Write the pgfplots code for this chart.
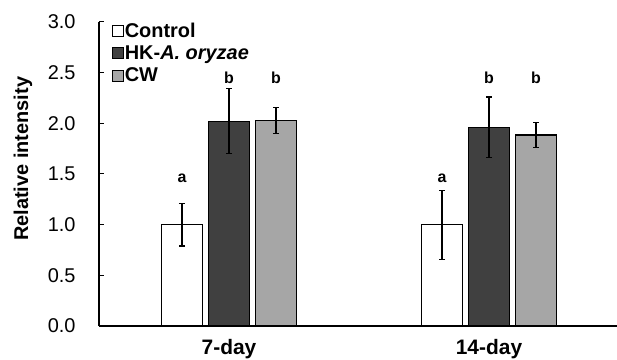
\documentclass[border=0pt]{standalone}
\usepackage{pgfplots}
\pgfplotsset{compat=1.18}
\usepackage{pgfplotstable}
\usepackage{fontspec}
\setmainfont{Liberation Sans}

\pgfplotstableread{
x y err
0 1.00 0.21
1 1.00 0.34
}\control
\pgfplotstableread{
x y err
0 2.02 0.32
1 1.96 0.30
}\hk
\pgfplotstableread{
x y err
0 2.03 0.13
1 1.885 0.127
}\cw

\begin{document}
\begin{tikzpicture}
\useasboundingbox (0,0) rectangle (617bp,360bp);
\begin{axis}[
  at={(99bp,34bp)}, anchor=south west,
  scale only axis, width=520bp, height=304bp,
  xmin=-0.5, xmax=1.5, ymin=0, ymax=3,
  axis lines*=left,
  axis line style={line width=1.2bp, black},
  xtick={0,1}, xticklabels={7-day,14-day},
  x tick label style={font=\fontsize{21}{25}\selectfont\bfseries, yshift=-5bp},
  major x tick style={draw=none},
  ytick={0,0.5,...,3},
  yticklabel style={/pgf/number format/fixed, /pgf/number format/fixed zerofill, /pgf/number format/precision=1, font=\fontsize{20}{24}\selectfont, xshift=-20bp},
  /pgf/number format/assume math mode=true,
  tick align=inside, major tick length=5bp,
  major y tick style={line width=1bp, black},
  ylabel={Relative intensity},
  ylabel style={font=\fontsize{20}{24}\selectfont\bfseries, at={(axis description cs:-0.146,0.55)}, anchor=center},
  ybar=6bp, bar width=41bp,
  legend cell align=left,
  legend image code/.code={\draw[#1, line width=0.8bp] (0bp,-5.5bp) rectangle (11bp,5.5bp);},
  legend style={at={(0.018,1.01)}, anchor=north west, draw=none, fill=none,
    font=\fontsize{20}{22}\selectfont\bfseries, row sep=4bp,
    nodes={inner sep=1.5bp},
    /tikz/every even column/.append style={column sep=3bp}},
  error bars/error bar style={line width=1.2bp, black},
  error bars/error mark options={rotate=90, mark size=3bp, line width=1.2bp, black},
]
\addplot[fill=white, draw=black, line width=1.2bp, error bars/.cd, y dir=both, y explicit]
  table[x=x, y=y, y error=err]{\control};
\addplot[fill=black!75, draw=black, line width=1.2bp, error bars/.cd, y dir=both, y explicit]
  table[x=x, y=y, y error=err]{\hk};
\addplot[fill=black!35, draw=black, line width=1.2bp, error bars/.cd, y dir=both, y explicit]
  table[x=x, y=y, y error=err]{\cw};
\legend{Control, HK-\textit{A. oryzae}, CW}
\node[font=\fontsize{16}{19}\selectfont\bfseries] at (axis cs:-0.181,1.46) {a};
\node[font=\fontsize{16}{19}\selectfont\bfseries] at (axis cs:0,2.45) {b};
\node[font=\fontsize{16}{19}\selectfont\bfseries] at (axis cs:0.181,2.45) {b};
\node[font=\fontsize{16}{19}\selectfont\bfseries] at (axis cs:0.819,1.46) {a};
\node[font=\fontsize{16}{19}\selectfont\bfseries] at (axis cs:1,2.45) {b};
\node[font=\fontsize{16}{19}\selectfont\bfseries] at (axis cs:1.181,2.45) {b};
\end{axis}
\end{tikzpicture}
\end{document}
